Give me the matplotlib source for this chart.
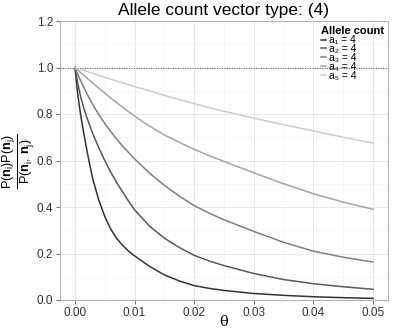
import matplotlib
matplotlib.use("Agg")
import matplotlib.pyplot as plt

plt.rcParams['font.family'] = ['Liberation Sans', 'DejaVu Sans']
plt.rcParams['mathtext.fontset'] = 'custom'
plt.rcParams['mathtext.rm'] = 'Liberation Sans'
plt.rcParams['mathtext.it'] = 'Liberation Sans:italic'
plt.rcParams['mathtext.bf'] = 'Liberation Sans:bold'

theta = [0, 0.00025, 0.0005, 0.00075, 0.001, 0.0015, 0.002, 0.0025, 0.003, 0.0035,
         0.004, 0.005, 0.006, 0.007, 0.008, 0.009, 0.01, 0.0125, 0.015, 0.0175,
         0.02, 0.0225, 0.025, 0.03, 0.035, 0.04, 0.045, 0.05]

a1 = [1.0, 0.94, 0.88, 0.835, 0.79, 0.715, 0.645, 0.58, 0.52, 0.475,
      0.43, 0.36, 0.305, 0.265, 0.235, 0.21, 0.19, 0.145, 0.108, 0.082,
      0.062, 0.05, 0.041, 0.028, 0.02, 0.014, 0.01, 0.007]
a2 = [1.0, 0.965, 0.93, 0.9, 0.87, 0.825, 0.785, 0.75, 0.715, 0.685,
      0.655, 0.6, 0.55, 0.505, 0.465, 0.425, 0.388, 0.318, 0.266, 0.226,
      0.192, 0.168, 0.148, 0.114, 0.088, 0.07, 0.057, 0.046]
a3 = [1.0, 0.984, 0.969, 0.955, 0.941, 0.914, 0.888, 0.864, 0.841, 0.819,
      0.798, 0.76, 0.725, 0.692, 0.662, 0.634, 0.607, 0.546, 0.493, 0.447,
      0.406, 0.374, 0.345, 0.295, 0.248, 0.21, 0.184, 0.163]
a4 = [1.0, 0.994, 0.989, 0.983, 0.977, 0.966, 0.955, 0.944, 0.933, 0.922,
      0.911, 0.89, 0.869, 0.849, 0.829, 0.81, 0.791, 0.748, 0.71, 0.678,
      0.648, 0.621, 0.596, 0.547, 0.5, 0.457, 0.421, 0.39]
a5 = [1.0, 0.998, 0.996, 0.994, 0.992, 0.988, 0.983, 0.979, 0.975, 0.971,
      0.966, 0.958, 0.95, 0.942, 0.934, 0.926, 0.918, 0.9, 0.88, 0.862,
      0.845, 0.828, 0.812, 0.782, 0.754, 0.727, 0.70, 0.675]

series = [a1, a2, a3, a4, a5]
labels = ['a₁ = 4', 'a₂ = 4', 'a₃ = 4', 'a₄ = 4', 'a₅ = 4']
colors = ['#333333', '#595959', '#808080', '#A6A6A6', '#CCCCCC']

x_ticks = [0.00, 0.01, 0.02, 0.03, 0.04, 0.05]
y_ticks = [0.0, 0.2, 0.4, 0.6, 0.8, 1.0, 1.2]

fig = plt.figure(figsize=(3.95, 3.29), dpi=100)
ax = fig.add_axes([60 / 395, 29 / 329, 328 / 395, 279 / 329])

# grid like ggplot theme_light
ax.set_xticks(x_ticks)
ax.set_yticks(y_ticks)
ax.set_xticks([0.005, 0.015, 0.025, 0.035, 0.045], minor=True)
ax.set_yticks([0.1, 0.3, 0.5, 0.7, 0.9, 1.1], minor=True)
ax.grid(which='major', color='#E5E5E5', lw=0.6)
ax.grid(which='minor', color='#F2F2F2', lw=0.4)
ax.set_axisbelow(True)
ax.tick_params(which='minor', length=0)
ax.tick_params(which='major', length=3, width=0.6, color='#555555',
               labelsize=8.5, labelcolor='#333333', pad=2)
for sp in ax.spines.values():
    sp.set_color('#B3B3B3')
    sp.set_linewidth(0.8)

ax.axhline(1.0, color='#666666', lw=0.8, ls=(0, (1, 1.2)))

for vals, lab, col in zip(series, labels, colors):
    ax.plot(theta, vals, color=col, lw=1.1, label=lab)

ax.set_xlim(-0.0025, 0.0525)
ax.set_ylim(0, 1.2)
ax.set_xticklabels(['%.2f' % v for v in x_ticks])
ax.set_yticklabels(['%.1f' % v for v in y_ticks])

ax.set_title('Allele count vector type: (4)', fontsize=12.5, pad=4)
ax.set_xlabel('θ', fontsize=10.5, family='DejaVu Serif', labelpad=-3)

# y label: ratio of probabilities, drawn as a stacked fraction
fig.text(19 / 395, 1 - 161 / 329,
         r'$\frac{\mathrm{P}(\mathbf{n}_\mathrm{i})\mathrm{P}(\mathbf{n}_\mathrm{j})}'
         r'{\mathrm{P}(\mathbf{n}_\mathrm{i},\,\mathbf{n}_\mathrm{j})}$',
         fontsize=13, rotation=90, ha='center', va='center')

leg = ax.legend(loc='upper right', bbox_to_anchor=(0.992, 0.985), frameon=False,
                fontsize=7.5, handlelength=0.5, handletextpad=0.2,
                labelspacing=-0.1, borderaxespad=0.0, borderpad=0.1,
                title='Allele count', alignment='left',
                title_fontproperties={'weight': 'bold', 'size': 8})

fig.savefig('out.png', dpi=100)
